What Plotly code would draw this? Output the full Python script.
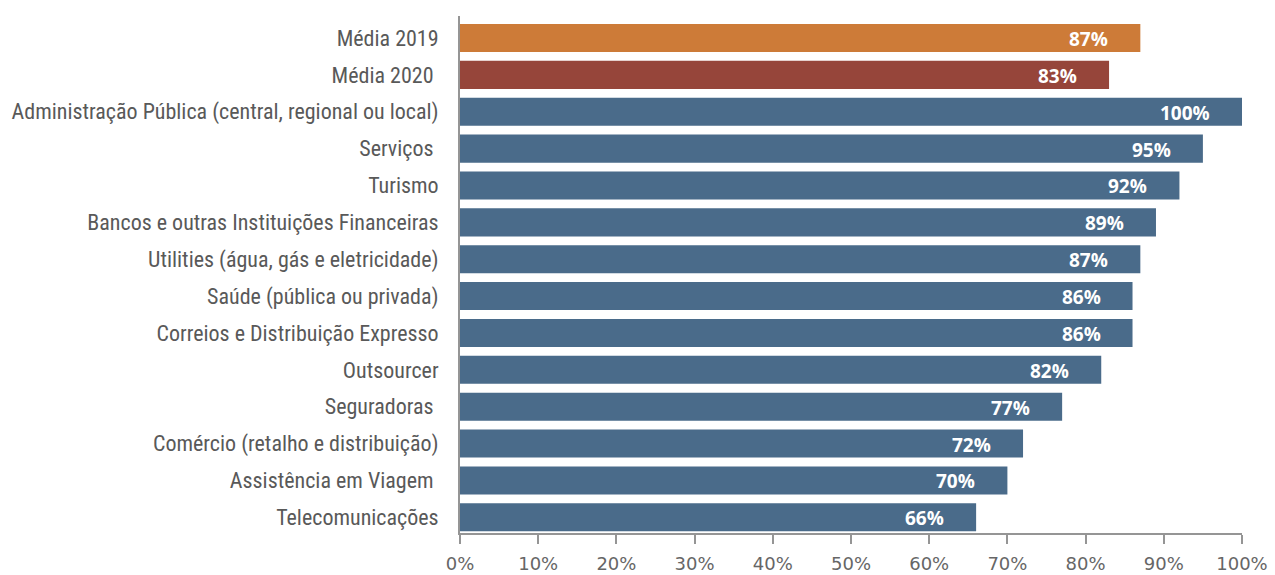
import plotly.graph_objects as go

# Categories (top to bottom) and their percentages
categories = [
    "Média 2019",
    "Média 2020 ",
    "Administração Pública (central, regional ou local)",
    "Serviços ",
    "Turismo",
    "Bancos e outras Instituições Financeiras",
    "Utilities (água, gás e eletricidade)",
    "Saúde (pública ou privada)",
    "Correios e Distribuição Expresso",
    "Outsourcer",
    "Seguradoras ",
    "Comércio (retalho e distribuição)",
    "Assistência em Viagem ",
    "Telecomunicações",
]
values = [87, 83, 100, 95, 92, 89, 87, 86, 86, 82, 77, 72, 70, 66]
tick_values = [0, 10, 20, 30, 40, 50, 60, 70, 80, 90, 100]
tick_labels = [f"{v}%" for v in tick_values]

ORANGE = "#CD7B38"
RED = "#96453A"
BLUE = "#4A6B8A"
AXIS_GREY = "#959595"
colors = [ORANGE, RED] + [BLUE] * (len(categories) - 2)

fig = go.Figure(
    go.Bar(
        x=values,
        y=categories,
        orientation="h",
        marker=dict(color=colors, line=dict(width=0)),
        hoverinfo="skip",
    )
)

# Value labels inside the bar ends
for cat, val in zip(categories, values):
    fig.add_annotation(
        x=val, y=cat, text=f"<b>{val}%</b>", showarrow=False,
        xanchor="right", xshift=-30, yshift=-1,
        font=dict(family="Open Sans, sans-serif", size=19, color="white"),
    )

fig.update_layout(
    width=1275, height=575,
    margin=dict(l=460, r=33, t=16, b=42),
    paper_bgcolor="white", plot_bgcolor="white",
    bargap=0.24,
    showlegend=False,
    xaxis=dict(
        range=[0, 100],
        tickvals=tick_values, ticktext=tick_labels,
        showgrid=False, zeroline=False,
        showline=True, linecolor=AXIS_GREY, linewidth=2,
        ticks="outside", ticklen=9, tickwidth=2, tickcolor=AXIS_GREY,
        ticklabelstandoff=4,
        tickfont=dict(family="DejaVu Sans, sans-serif", size=18, color="#666666"),
        automargin=False,
        fixedrange=True,
    ),
    yaxis=dict(
        type="category",
        categoryorder="array", categoryarray=categories,
        range=[13.425, -0.597],
        showgrid=False, zeroline=False,
        showline=True, linecolor=AXIS_GREY, linewidth=2,
        ticks="", ticklabelstandoff=15,
        tickfont=dict(family="Roboto Condensed, sans-serif", size=22, color="#595959"),
        automargin=False,
        fixedrange=True,
    ),
)

fig.write_html("out.html")
